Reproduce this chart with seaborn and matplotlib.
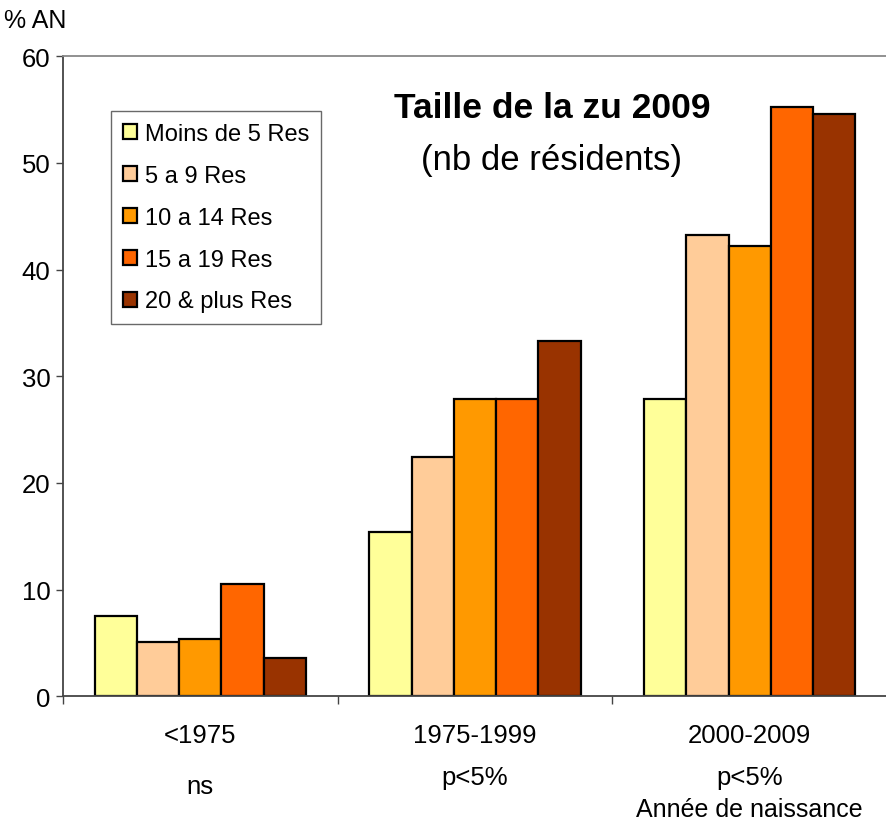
import pandas as pd
import seaborn as sns
from matplotlib import pyplot as plt

periods = ["<1975", "1975-1999", "2000-2009"]
signif = ["ns", "p<5%", "p<5%"]
sizes = ["Moins de 5 Res", "5 a 9 Res", "10 a 14 Res", "15 a 19 Res", "20 & plus Res"]
moins5 = [7.5, 15.4, 27.9]
de5a9 = [5.1, 22.4, 43.2]
de10a14 = [5.4, 27.9, 42.2]
de15a19 = [10.5, 27.9, 55.2]
plus20 = [3.6, 33.3, 54.6]
colors = ["#FFFF99", "#FFCC99", "#FF9900", "#FF6600", "#993300"]

series = [moins5, de5a9, de10a14, de15a19, plus20]
df = pd.DataFrame(
    [(p, s, vals[i]) for s, vals in zip(sizes, series) for i, p in enumerate(periods)],
    columns=["periode", "taille", "pct"],
)

sns.set_theme(style="white")
plt.rcParams["font.family"] = ["Liberation Sans", "DejaVu Sans"]
plt.rcParams["text.color"] = "black"
plt.rcParams["ytick.color"] = "black"

fig = plt.figure(figsize=(8.87, 8.29), dpi=100)
ax = fig.add_axes([0.071, 0.159, 0.929, 0.772])

sns.barplot(
    data=df, x="periode", y="pct", hue="taille",
    order=periods, hue_order=sizes, palette=colors,
    width=0.77, edgecolor="black", linewidth=1.6, saturation=1, ax=ax,
)

ax.set_ylim(0, 60)
ax.set_xlim(-0.5, 2.5)
ax.set_yticks(range(0, 61, 10))
ax.tick_params(axis="y", labelsize=18.5, length=5, width=1, color="#444444",
               labelcolor="black", direction="out", left=True, pad=4)
ax.set_xticks([-0.5, 0.5, 1.5])
ax.set_xticklabels([])
ax.tick_params(axis="x", length=6, width=1, color="#444444", direction="out", bottom=True)
ax.set_xlabel("")
ax.set_ylabel("")

for side in ["left", "bottom"]:
    ax.spines[side].set_color("#444444")
    ax.spines[side].set_linewidth(1.3)
ax.spines["right"].set_visible(False)
ax.spines["top"].set_color("#888888")
ax.spines["top"].set_linewidth(1.3)

for i, (p, s) in enumerate(zip(periods, signif)):
    ax.text(i, -3.6, p, ha="center", va="center", fontsize=18.5, color="black")
    ax.text(i, -8.4 if s == "ns" else -7.6, s, ha="center", va="center", fontsize=18.5, color="black")
ax.text(2, -10.6, "Année de naissance", ha="center", va="center", fontsize=18, color="black")

fig.text(0.005, 0.975, "% AN", ha="left", va="center", fontsize=18, color="black")
ax.text(1.28, 55.2, "Taille de la zu 2009", ha="center", va="center",
        fontsize=25.5, fontweight="bold", color="black")
ax.text(1.28, 50.3, "(nb de résidents)", ha="center", va="center", fontsize=25, color="black")

leg = ax.legend(
    loc="upper left", bbox_to_anchor=(0.058, 0.914), frameon=True, fancybox=False,
    fontsize=17, handlelength=0.6, handleheight=0.6, handletextpad=0.35,
    labelspacing=0.84, borderpad=0.5, borderaxespad=0, title=None,
)
leg.get_frame().set_edgecolor("#444444")
leg.get_frame().set_linewidth(1.0)

fig.savefig("out.png", dpi=100)
